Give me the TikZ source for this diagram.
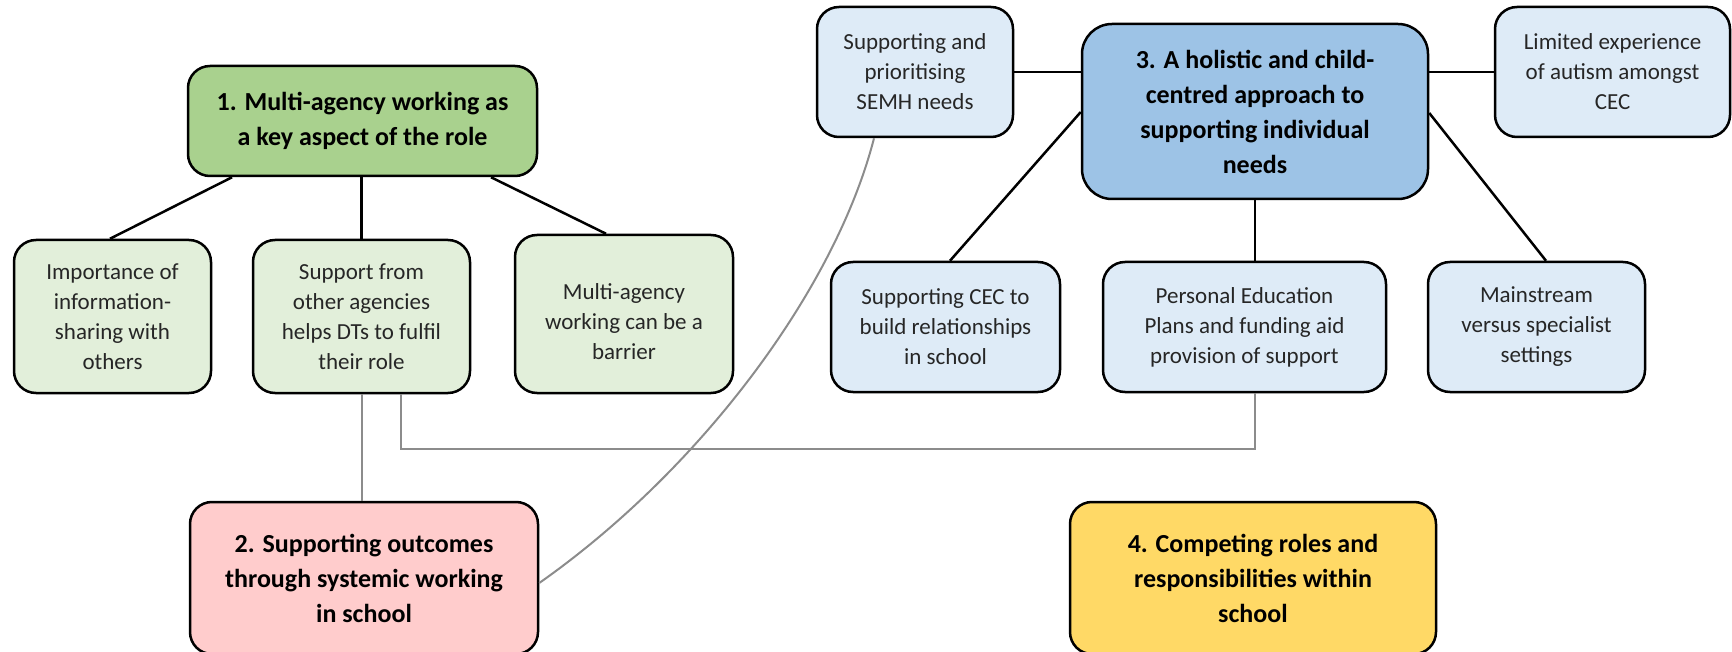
\documentclass[tikz,border=0pt]{standalone}
\usepackage{fontspec}
\setmainfont{Carlito}
\definecolor{gmain}{HTML}{A9D18E}
\definecolor{glight}{HTML}{E2EFDA}
\definecolor{bmain}{HTML}{9DC3E6}
\definecolor{blight}{HTML}{DEEBF7}
\definecolor{pinkc}{HTML}{FFCCCC}
\definecolor{yellowc}{HTML}{FFD966}
\definecolor{textgray}{HTML}{262626}
\definecolor{linegray}{HTML}{8C8C8C}
\begin{document}
\begin{tikzpicture}[x=1pt,y=-1pt,
  box/.style={draw=black, line width=2.5pt, rounded corners=22pt, align=center, inner sep=0pt},
  reg/.style={font=\fontsize{23}{30}\selectfont, text=textgray, align=center},
  bld/.style={font=\fontsize{26}{35}\selectfont\bfseries, text=black},
  conn/.style={line width=2.5pt, draw=black},
  gconn/.style={line width=2pt, draw=linegray}]
\useasboundingbox (0,0) rectangle (1732,652);

% theme 1
\node[box, bld, fill=gmain, minimum width=349pt, minimum height=110pt] (b1) at (362.5,121) {1. Multi-agency working as\\a key aspect of the role};
\node[box, reg, fill=glight, minimum width=197pt, minimum height=153pt] (imp) at (112.5,316.5) {Importance of\\information-\\sharing with\\others};
\node[box, reg, fill=glight, minimum width=217pt, minimum height=153pt] (sup) at (361.5,316.5) {Support from\\other agencies\\helps DTs to fulfil\\their role};
\node[box, fill=glight, minimum width=218pt, minimum height=158pt] (multi) at (624,314) {};
\node[reg] (multitext) at ([yshift=-8pt]multi.center) {Multi-agency\\working can be a\\barrier};

% theme 2 and 4
\node[box, bld, fill=pinkc, minimum width=348pt, minimum height=152pt] (b2) at (364,578) {2. Supporting outcomes\\through systemic working\\in school};
\node[box, bld, fill=yellowc, minimum width=366pt, minimum height=152pt] (b4) at (1253,578) {4. Competing roles and\\responsibilities within\\school};

% theme 3
\node[box, bld, fill=bmain, rounded corners=30pt, minimum width=346pt, minimum height=175pt] (b3) at (1255,111.5) {3. A holistic and child-\\centred approach to\\supporting individual\\needs};
\node[box, reg, fill=blight, minimum width=196pt, minimum height=130pt] (semh) at (915,72) {Supporting and\\prioritising\\SEMH needs};
\node[box, reg, fill=blight, minimum width=235pt, minimum height=130pt] (lim) at (1612.5,72) {Limited experience\\of autism amongst\\CEC};
\node[box, reg, fill=blight, minimum width=229pt, minimum height=130pt] (cec) at (945.5,327) {Supporting CEC to\\build relationships\\in school};
\node[box, reg, fill=blight, minimum width=283pt, minimum height=130pt] (pep) at (1244.5,327) {Personal Education\\Plans and funding aid\\provision of support};
\node[box, reg, fill=blight, minimum width=217pt, minimum height=130pt] (mains) at (1536.5,327) {Mainstream\\versus specialist\\settings};

% black connectors
\draw[conn] (232,0 |- b1.south) -- (110,0 |- imp.north);
\draw[conn] (sup.north) -- (sup.north |- b1.south);
\draw[conn] (491,0 |- b1.south) -- (606,0 |- multi.north);
\draw[conn] (semh.east) -- (semh.east -| b3.west);
\draw[conn] (lim.west) -- (lim.west -| b3.east);
\draw[conn] (b3.west |- 0,112) -- (950,0 |- cec.north);
\draw[conn] (b3.east |- 0,113) -- (1546,0 |- mains.north);
\draw[conn] (b3.south) -- (b3.south |- pep.north);

% grey connectors
\draw[gconn] (sup.south) -- (sup.south |- b2.north);
\draw[gconn] (401,0 |- sup.south) |- (b3.south |- 0,449) -- (b3.south |- pep.south);
\draw[gconn] (874,0 |- semh.south) .. controls (835,290) and (700,470) .. (b2.east |- 0,583);
\end{tikzpicture}
\end{document}
